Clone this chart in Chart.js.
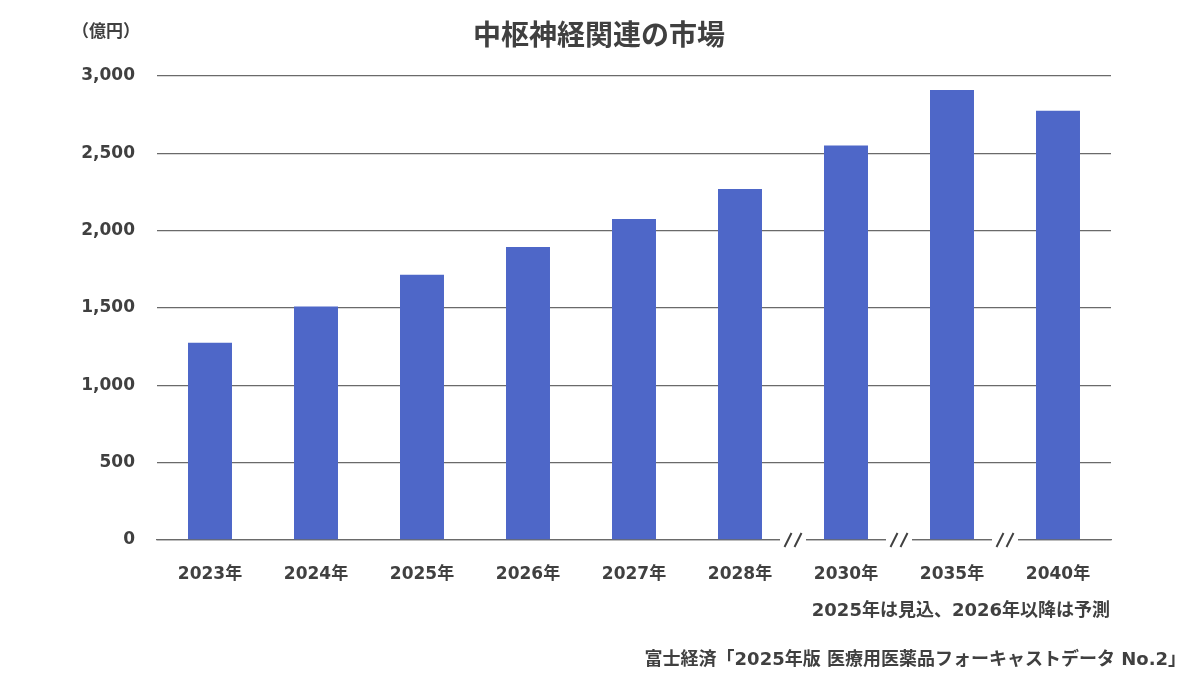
<!DOCTYPE html>
<html>
<head>
<meta charset="utf-8">
<script src="https://cdn.jsdelivr.net/npm/chart.js@4"></script>
<style>
  body { margin: 0; background: #fff; }
  canvas { display: block; }
</style>
</head>
<body>
<canvas id="marketChart" width="1200" height="675" style="width:1200px;height:675px"></canvas>
<script>
// data
var years = ['2023年', '2024年', '2025年', '2026年', '2027年', '2028年', '2030年', '2035年', '2040年'];
var market = [1275, 1510, 1715, 1895, 2075, 2270, 2550, 2910, 2775];
var yTicks = [0, 500, 1000, 1500, 2000, 2500, 3000];
var breakAfter = ['2028年', '2030年', '2035年'];

var titleText = '中枢神経関連の市場';
var unitText = '（億円）';
var noteText = '2025年は見込、2026年以降は予測';
var sourceText = '富士経済「2025年版 医療用医薬品フォーキャストデータ No.2」';

var FONT = '"DejaVu Sans", "Noto Sans CJK JP", sans-serif';
var TEXT = '#404040';
var GRID = '#6a6a6a';

// "//" marks on the baseline between non-consecutive years
var breakMarks = {
  id: 'breakMarks',
  afterDatasetsDraw: function (chart) {
    var ctx = chart.ctx, xs = chart.scales.x, ys = chart.scales.y;
    var y0 = ys.getPixelForValue(0);
    ctx.save();
    breakAfter.forEach(function (lab) {
      var i = years.indexOf(lab);
      var x = (xs.getPixelForValue(i) + xs.getPixelForValue(i + 1)) / 2;
      ctx.fillStyle = '#fff';
      ctx.fillRect(x - 13, y0 - 3, 26, 6);
      ctx.strokeStyle = '#404040';
      ctx.lineWidth = 2;
      [-5, 5].forEach(function (d) {
        ctx.beginPath();
        ctx.moveTo(x + d - 3.5, y0 + 7);
        ctx.lineTo(x + d + 3.5, y0 - 7);
        ctx.stroke();
      });
    });
    ctx.restore();
  }
};

// title, unit and footnotes
var texts = {
  id: 'texts',
  afterDraw: function (chart) {
    var ctx = chart.ctx;
    ctx.save();
    ctx.fillStyle = TEXT;
    ctx.textBaseline = 'middle';

    ctx.font = 'bold 28px ' + FONT;
    ctx.textAlign = 'center';
    ctx.fillText(titleText, 599, 38);

    ctx.font = 'bold 17px ' + FONT;
    ctx.fillText(unitText, 106, 33);

    ctx.font = 'bold 18px ' + FONT;
    ctx.textAlign = 'right';
    ctx.fillText(noteText, 1110, 611);
    ctx.fillText(sourceText, 1186, 660);
    ctx.restore();
  }
};

new Chart(document.getElementById('marketChart'), {
  type: 'bar',
  data: {
    labels: years,
    datasets: [{
      data: market,
      backgroundColor: '#4e67c8',
      borderWidth: 0,
      barPercentage: 0.415,
      categoryPercentage: 1
    }]
  },
  options: {
    responsive: false,
    animation: false,
    events: [],
    layout: { padding: { top: 76, right: 89, bottom: 0, left: 0 } },
    plugins: {
      legend: { display: false },
      tooltip: { enabled: false }
    },
    scales: {
      x: {
        grid: { display: false },
        border: { display: true, color: GRID, width: 1.3 },
        ticks: {
          padding: 16,
          color: TEXT,
          font: { family: FONT, size: 17, weight: 'bold' }
        },
        afterFit: function (scale) { scale.height = 135; }
      },
      y: {
        min: 0,
        max: 3000,
        afterBuildTicks: function (scale) {
          scale.ticks = yTicks.map(function (v) { return { value: v }; });
        },
        grid: { color: GRID, lineWidth: 1.3, drawTicks: false },
        border: { display: false },
        ticks: {
          padding: 22,
          color: TEXT,
          font: { family: FONT, size: 17, weight: 'bold' },
          callback: function (v) { return v.toLocaleString('en-US'); }
        },
        afterFit: function (scale) { scale.width = 157; }
      }
    }
  },
  plugins: [breakMarks, texts]
});
</script>
</body>
</html>
